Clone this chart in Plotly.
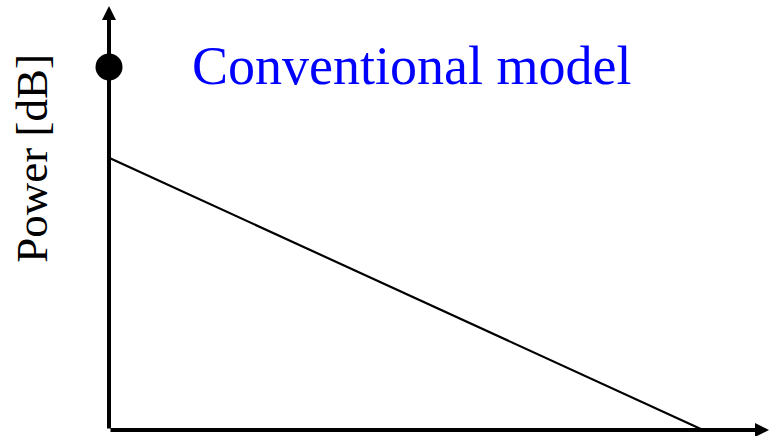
import plotly.graph_objects as go

# sloped power profile (arbitrary units) and the single direct-path dot
line_x = [0, 9.0]
line_y = [6.42, 0]
dot_x = [0]
dot_y = [8.56]

TITLE = "Conventional model"
Y_LABEL = "Power [dB]"
SERIF = "Liberation Serif, Times New Roman, serif"

fig = go.Figure()

fig.add_trace(go.Scatter(
    x=line_x, y=line_y, mode='lines',
    line=dict(color='black', width=2.2),
    cliponaxis=False, showlegend=False, hoverinfo='skip',
))
fig.add_trace(go.Scatter(
    x=dot_x, y=dot_y, mode='markers',
    marker=dict(color='black', size=27),
    cliponaxis=False, showlegend=False, hoverinfo='skip',
))

# axes drawn as arrows
for tip in [(0, 10), (10, 0)]:
    fig.add_annotation(
        x=tip[0], y=tip[1], ax=0, ay=0,
        xref='x', yref='y', axref='x', ayref='y',
        text='', showarrow=True,
        arrowhead=2, arrowsize=0.7, arrowwidth=4, arrowcolor='black',
    )

fig.add_annotation(
    x=0.4576, y=0.858, xref='paper', yref='paper',
    xanchor='center', yanchor='middle',
    text=TITLE, showarrow=False,
    font=dict(family=SERIF, size=54, color='#0000ff'),
)
fig.add_annotation(
    x=-0.1167, y=0.642, xref='paper', yref='paper',
    xanchor='center', yanchor='middle',
    text=Y_LABEL, showarrow=False, textangle=-90,
    font=dict(family=SERIF, size=45, color='black'),
)

fig.update_layout(
    width=769, height=436,
    margin=dict(l=109, r=0, t=6, b=6),
    paper_bgcolor='white', plot_bgcolor='white',
    xaxis=dict(range=[0, 10], visible=False, fixedrange=True),
    yaxis=dict(range=[0, 10], visible=False, fixedrange=True),
)

fig.write_html("out.html", config={'displayModeBar': False},
               post_script="document.body.style.margin='0';")
